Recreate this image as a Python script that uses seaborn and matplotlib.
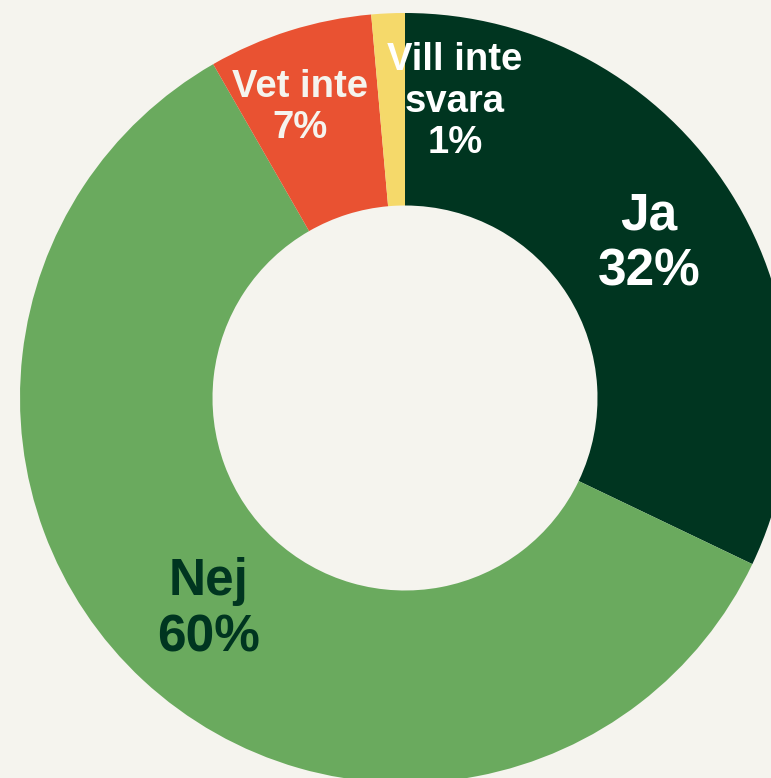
import numpy as np
import matplotlib
matplotlib.use("Agg")
import matplotlib.pyplot as plt
import seaborn as sns

# svar och andelar (procent)
kategorier = ["Ja", "Nej", "Vet inte", "Vill inte svara"]
andelar = [32.1, 59.6, 6.9, 1.4]
etiketter = ["Ja\n32%", "Nej\n60%", "Vet inte\n7%", "Vill inte\nsvara\n1%"]
farger = ["#003520", "#6aaa5e", "#e95232", "#f5d96a"]
textfarger = ["white", "#003520", "#f5f4ee", "white"]

bg = "#f5f4ee"
sns.set_style("white")
plt.rcParams["font.family"] = ["Liberation Sans", "DejaVu Sans"]

fig = plt.figure(figsize=(7.71, 7.78), dpi=100, facecolor=bg)
ax = fig.add_axes([20 / 771, -5 / 778, 770 / 771, 770 / 778])
ax.set_facecolor(bg)

wedges, _ = ax.pie(andelar, colors=farger, startangle=90, counterclock=False,
                   radius=1, wedgeprops=dict(width=0.5, linewidth=0))

# etiketter
storlek = [37, 37, 27.5, 27.5]
lage = {2: (-0.273, 0.755), 3: (0.13, 0.77)}
for i, w in enumerate(wedges):
    mid = np.deg2rad((w.theta1 + w.theta2) / 2)
    x, y = 0.75 * np.cos(mid), 0.75 * np.sin(mid)
    if i in lage:
        x, y = lage[i]
    ax.text(x, y, etiketter[i], ha="center", va="center", fontsize=storlek[i],
            fontweight="bold", color=textfarger[i], linespacing=1.2)

ax.set_xlim(-1, 1)
ax.set_ylim(-1, 1)
ax.set_aspect("equal")
ax.axis("off")

fig.savefig("out.png", dpi=100, facecolor=bg)
